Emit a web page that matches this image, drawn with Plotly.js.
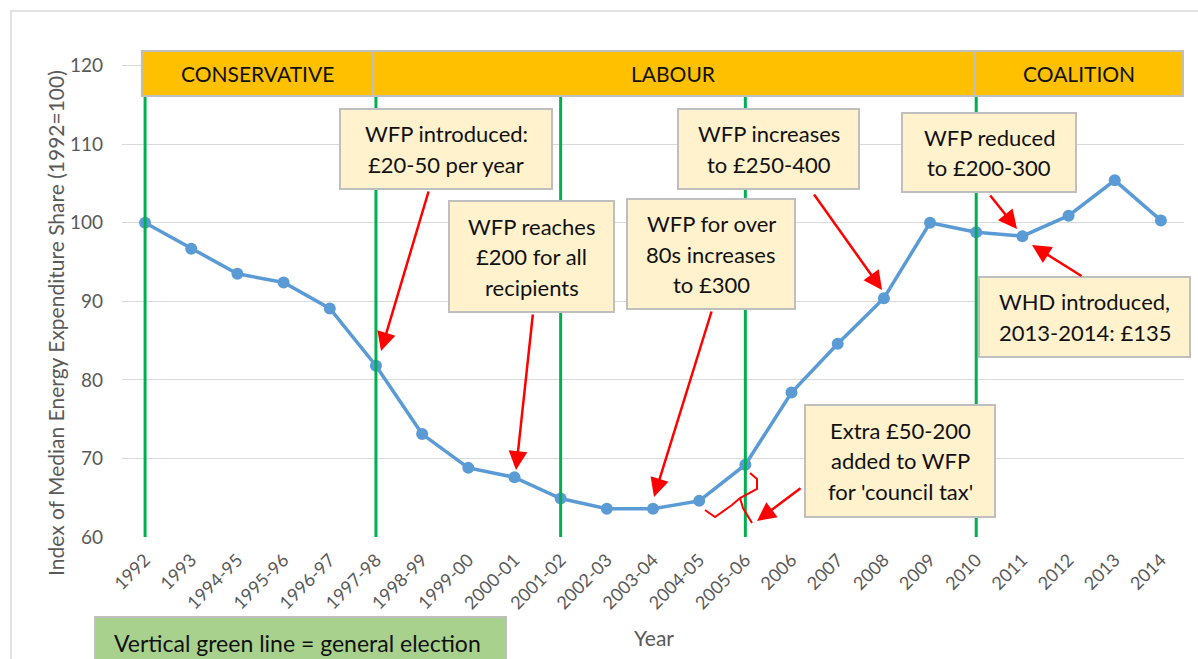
<!DOCTYPE html>
<html>
<head>
<meta charset="utf-8">
<script src="https://cdn.plot.ly/plotly-3.0.1.min.js"></script>
<style>html,body{margin:0;padding:0;background:#fff;}#chart{width:1198px;height:659px;}</style>
</head>
<body>
<div id="chart"></div>
<script>
// ---- data ----
const years = ['1992','1993','1994-95','1995-96','1996-97','1997-98','1998-99','1999-00','2000-01','2001-02','2002-03','2003-04','2004-05','2005-06','2006','2007','2008','2009','2010','2011','2012','2013','2014'];
const indexValues = [100, 96.7, 93.5, 92.4, 89.1, 81.8, 73.1, 68.8, 67.6, 64.9, 63.6, 63.6, 64.6, 69.2, 78.4, 84.6, 90.4, 100.0, 98.8, 98.3, 100.9, 105.4, 100.3];
const electionYears = ['1992','1997-98','2001-02','2005-06','2010'];
const parties = ['CONSERVATIVE','LABOUR','COALITION'];
const partyStart = [-0.07, 4.94, 17.96];
const partyEnd = [4.94, 17.96, 22.48];
const yTicks = [60, 70, 80, 90, 100, 110, 120];

// ---- geometry helpers (pixel -> paper) ----
const L = 122, T = 48, W = 1062, H = 489;
const px = X => (X - L) / W;
const py = Y => (T + H - Y) / H;

const FONT = 'Lato, "Open Sans", sans-serif';
const shapes = [];
const annotations = [];

// outer chart border
shapes.push({type:'rect', xref:'paper', yref:'paper', x0:px(11), y0:py(11), x1:px(1215), y1:py(680),
  line:{color:'#D9D9D9', width:1.5}, fillcolor:'rgba(0,0,0,0)', layer:'below'});

// election lines
electionYears.forEach(c => {
  const i = years.indexOf(c);
  shapes.push({type:'line', xref:'x', yref:'y', x0:i, x1:i, y0:59.3, y1:116.2,
    line:{color:'#00B050', width:3}, layer:'above'});
});

// party bar
parties.forEach((p, i) => {
  shapes.push({type:'rect', xref:'x', yref:'y', x0:partyStart[i], x1:partyEnd[i], y0:116.14, y1:121.87,
    fillcolor:'#FFC000', line:{color:'#BFBFBF', width:2}, layer:'above'});
  annotations.push({xref:'x', yref:'y', x:(partyStart[i]+partyEnd[i])/2, y:119.0, text:p, showarrow:false,
    font:{family:FONT, size:21, color:'#111'}, xanchor:'center', yanchor:'middle'});
});

// text boxes
const boxes = [
  {x0:340, y0:109, x1:552, y1:189, lines:['WFP introduced:','£20-50 per year']},
  {x0:449, y0:201, x1:614, y1:312, lines:['WFP reaches','£200 for all','recipients']},
  {x0:627, y0:199, x1:795, y1:309, lines:['WFP for over','80s increases','to £300']},
  {x0:678, y0:109, x1:859, y1:189, lines:['WFP increases','to £250-400']},
  {x0:902, y0:113, x1:1076, y1:192, lines:['WFP reduced','to £200-300']},
  {x0:979, y0:277, x1:1190, y1:357, lines:['WHD introduced,','2013-2014: £135']},
  {x0:805, y0:405, x1:995, y1:517, lines:["Extra £50-200","added to WFP","for 'council tax'"]}
];
const LS = 30.5;
boxes.forEach(b => {
  shapes.push({type:'rect', xref:'paper', yref:'paper', x0:px(b.x0), x1:px(b.x1), y0:py(b.y1), y1:py(b.y0),
    fillcolor:'#FFF2CC', line:{color:'#BFBFBF', width:2}, layer:'above'});
  const cx = (b.x0 + b.x1) / 2, cy = (b.y0 + b.y1) / 2;
  const n = b.lines.length;
  b.lines.forEach((t, k) => {
    const ly = cy + (k - (n - 1) / 2) * LS;
    annotations.push({xref:'paper', yref:'paper', x:px(cx), y:py(ly), text:t, showarrow:false,
      font:{family:FONT, size:22, color:'#111'}, xanchor:'center', yanchor:'middle'});
  });
});

// green legend box
shapes.push({type:'rect', xref:'paper', yref:'paper', x0:px(95), x1:px(506), y0:py(680), y1:py(617),
  fillcolor:'#A9D18E', line:{color:'#BFBFBF', width:2}, layer:'above'});
annotations.push({xref:'paper', yref:'paper', x:px(112), y:py(643), text:'Vertical green line = general election',
  showarrow:false, xanchor:'left', yanchor:'middle', font:{family:FONT, size:23, color:'#111'}});

// arrows [tailX, tailY, tipX, tipY]
const arrows = [
  [429,190,381,351],
  [533,313,516,470],
  [712,310,654,497],
  [813,193,882,290],
  [989,194,1017,229],
  [1083,277,1032,245],
  [802,487,757,521]
];
arrows.forEach(a => {
  annotations.push({xref:'paper', yref:'paper', x:px(a[2]), y:py(a[3]), ax:a[0]-a[2], ay:a[1]-a[3],
    text:'', showarrow:true, arrowhead:2, arrowsize:1.5, arrowwidth:2.5, arrowcolor:'#FF0000',
    standoff:0, startstandoff:0});
});

// brace
const bracePts = [[750,473],[757,479],[757,489],[740,498],[732,505],[715,517],[705,510]];
const branchPts = [[740,498],[743,508],[752,523]];
const toPath = pts => pts.map((p,i)=>(i?'L':'M')+px(p[0]).toFixed(5)+','+py(p[1]).toFixed(5)).join(' ');
shapes.push({type:'path', xref:'paper', yref:'paper', path:toPath(bracePts), line:{color:'#FF0000', width:2}});
shapes.push({type:'path', xref:'paper', yref:'paper', path:toPath(branchPts), line:{color:'#FF0000', width:2}});

// axis titles
annotations.push({xref:'paper', yref:'paper', x:px(55), y:py(323), text:'Index of Median Energy Expenditure Share (1992=100)',
  textangle:-90, showarrow:false, font:{family:FONT, size:21, color:'#595959'}, xanchor:'center', yanchor:'middle'});
annotations.push({xref:'paper', yref:'paper', x:px(654), y:py(637), text:'Year',
  showarrow:false, font:{family:FONT, size:21, color:'#595959'}, xanchor:'center', yanchor:'middle'});

const trace = {
  type:'scatter', mode:'lines+markers', x:years, y:indexValues,
  line:{color:'#5B9BD5', width:3.5}, marker:{color:'#5B9BD5', size:12},
  cliponaxis:false, hoverinfo:'x+y'
};

const layout = {
  width:1198, height:659,
  margin:{l:L, r:1198-L-W, t:T, b:659-T-H, pad:0},
  paper_bgcolor:'#fff', plot_bgcolor:'#fff',
  showlegend:false,
  xaxis:{type:'category', categoryorder:'array', categoryarray:years, range:[-0.5,22.5],
    tickangle:-45, showgrid:false, zeroline:false, showline:false, ticks:'',
    tickfont:{family:FONT, size:18, color:'#595959'}, ticklabelstandoff:8, fixedrange:true},
  yaxis:{range:[60,122.25], tickvals:yTicks, ticktext:yTicks.map(String), showgrid:true, gridcolor:'#D9D9D9', gridwidth:1,
    zeroline:false, showline:false, ticks:'', tickfont:{family:FONT, size:19, color:'#595959'}, ticklabelstandoff:18, fixedrange:true},
  shapes:shapes,
  annotations:annotations
};

Plotly.newPlot('chart', [trace], layout, {displayModeBar:false, staticPlot:true});
</script>
</body>
</html>
